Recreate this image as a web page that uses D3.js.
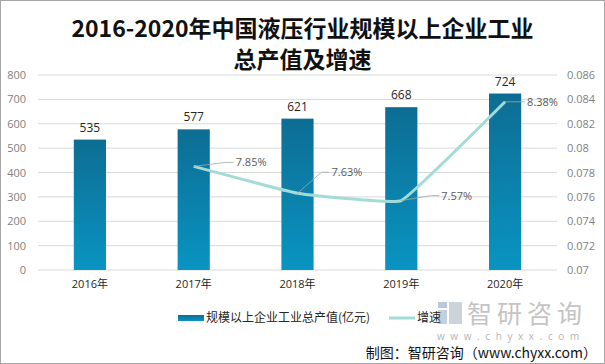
<!DOCTYPE html>
<html><head><meta charset="utf-8">
<script src="https://cdn.jsdelivr.net/npm/d3@7/dist/d3.min.js"></script>
<style>body{margin:0;background:#fff}svg{display:block}</style>
</head><body>
<svg id="c" width="605" height="364"></svg>
<script>
const categories = ["2016年","2017年","2018年","2019年","2020年"];
const outputValues = [535, 577, 621, 668, 724];
const growthRates = [null, 0.0785, 0.0763, 0.0757, 0.0838];
const growthLabels = ["", "7.85%", "7.63%", "7.57%", "8.38%"];
const leftTicks = [0,100,200,300,400,500,600,700,800];
const rightTicks = [0.07,0.072,0.074,0.076,0.078,0.08,0.082,0.084,0.086];
const titleLines = ["2016-2020年中国液压行业规模以上企业工业","总产值及增速"];
const legendLabels = ["规模以上企业工业总产值(亿元)","增速"];

const svg = d3.select("#c");
const W=605,H=364;
const m={l:38,r:48,t:75,b:94};
const x = d3.scaleBand().domain(categories).range([m.l, W-m.r]).paddingInner(0.69).paddingOuter(0.345);
const y = d3.scaleLinear().domain([0,800]).range([H-m.b, m.t]);
const y2 = d3.scaleLinear().domain([0.07,0.086]).range([H-m.b, m.t]);
const font = "'Open Sans','Noto Sans CJK SC',sans-serif";
const cjk = "'Noto Sans CJK SC',sans-serif";

svg.append("rect").attr("x",0.5).attr("y",0.5).attr("width",W-1).attr("height",H-1).attr("fill","#fff").attr("stroke","#a6a6a6");

// title
svg.append("g").selectAll("text").data(titleLines).join("text")
  .attr("x",W/2).attr("y",(d,i)=>37+i*31).attr("text-anchor","middle")
  .attr("font-family",cjk).attr("font-weight","bold")
  .attr("font-size",23).attr("fill","#111").text(d=>d);

// gridlines
svg.append("g").selectAll("line").data(leftTicks).join("line")
  .attr("x1",m.l).attr("x2",W-m.r).attr("y1",d=>y(d)).attr("y2",d=>y(d))
  .attr("stroke","#d9d9d9").attr("stroke-width",1);

// left axis
const ax = d3.axisLeft(y).tickValues(leftTicks).tickSize(0).tickPadding(12);
const gL = svg.append("g").attr("transform",`translate(${m.l},0)`).call(ax);
gL.select(".domain").remove();
gL.selectAll("text").attr("font-family",font).attr("font-size",11).attr("fill","#7f7f7f");

const ax2 = d3.axisRight(y2).tickValues(rightTicks).tickSize(0).tickPadding(10).tickFormat(d=>+d.toFixed(3)+"");
const gR = svg.append("g").attr("transform",`translate(${W-m.r},0)`).call(ax2);
gR.select(".domain").remove();
gR.selectAll("text").attr("font-family",font).attr("font-size",11).attr("fill","#7f7f7f");

const ax3 = d3.axisBottom(x).tickSize(0).tickPadding(10);
const gB = svg.append("g").attr("transform",`translate(0,${H-m.b})`).call(ax3);
gB.select(".domain").remove();
gB.selectAll("text").attr("font-family",font).attr("font-size",11).attr("fill","#262626");

// gradient
const defs = svg.append("defs");
const gr = defs.append("linearGradient").attr("id","bg").attr("x1",0).attr("y1",0).attr("x2",0).attr("y2",1);
gr.append("stop").attr("offset","0%").attr("stop-color","#0d6d93");
gr.append("stop").attr("offset","100%").attr("stop-color","#0994c2");

svg.append("g").selectAll("rect").data(outputValues).join("rect")
  .attr("x",(d,i)=>x(categories[i])).attr("width",x.bandwidth())
  .attr("y",d=>y(d)).attr("height",d=>y(0)-y(d)).attr("fill","url(#bg)");

svg.append("g").selectAll("text").data(outputValues).join("text")
  .attr("x",(d,i)=>x(categories[i])+x.bandwidth()/2).attr("y",d=>y(d)-8)
  .attr("text-anchor","middle").attr("font-family",font).attr("font-size",12).attr("fill","#262626")
  .text(d=>d);

// line
const pts = growthRates.map((v,i)=>({v,i})).filter(d=>d.v!==null);
const line = d3.line().x(d=>x(categories[d.i])+x.bandwidth()/2).y(d=>y2(d.v)).curve(d3.curveCardinal.tension(0.75));
svg.append("path").datum(pts).attr("d",line).attr("fill","none").attr("stroke","#a3dbd6").attr("stroke-width",3);

// labels with leaders
const offs = {1:[42,-4],2:[34,-21],3:[40,-5],4:[22,0]};
const lg = svg.append("g");
pts.forEach(d=>{
  const px = x(categories[d.i])+x.bandwidth()/2, py = y2(d.v);
  const [dx,dy] = offs[d.i];
  lg.append("polyline").attr("points",`${px},${py} ${px+dx-10},${py+dy} ${px+dx-2},${py+dy}`)
    .attr("fill","none").attr("stroke","#a6a6a6").attr("stroke-width",0.8);
  lg.append("text").attr("x",px+dx).attr("y",py+dy+4).attr("font-family",font).attr("font-size",11)
    .attr("fill","#595959").text(growthLabels[d.i]);
});

// watermark (drawn beneath legend)
const wm = svg.append("g");
wm.append("rect").attr("x",438).attr("y",302).attr("width",9).attr("height",6).attr("fill","#b9c9dc");
wm.append("rect").attr("x",449).attr("y",302).attr("width",13).attr("height",22).attr("fill","#cdd3da");
wm.append("rect").attr("x",438).attr("y",310).attr("width",9).attr("height",14).attr("fill","#c3cfdc");
wm.append("text").attr("x",467).attr("y",323).attr("font-family",cjk).attr("font-size",25).attr("fill","#c4c4c4").attr("letter-spacing",5).text("智研咨询");
wm.append("text").attr("x",437).attr("y",340).attr("font-family",font).attr("font-size",10).attr("fill","#b4b4b4").attr("letter-spacing",5.6).text("www.chyxx.com");

// legend
const lgY = 318;
svg.append("rect").attr("x",178).attr("y",lgY-3).attr("width",26).attr("height",6).attr("fill","url(#bg)");
svg.append("text").attr("x",206).attr("y",lgY+4).attr("font-family",cjk).attr("font-size",12).attr("fill","#262626").text(legendLabels[0]);
svg.append("line").attr("x1",389).attr("x2",415).attr("y1",lgY).attr("y2",lgY).attr("stroke","#a3dbd6").attr("stroke-width",3);
svg.append("text").attr("x",417).attr("y",lgY+4).attr("font-family",cjk).attr("font-size",12).attr("fill","#262626").text(legendLabels[1]);

svg.append("text").attr("x",597).attr("y",358).attr("text-anchor","end").attr("font-family",cjk).attr("font-size",14).attr("fill","#111").text("制图：智研咨询（www.chyxx.com）");
</script>
</body></html>
